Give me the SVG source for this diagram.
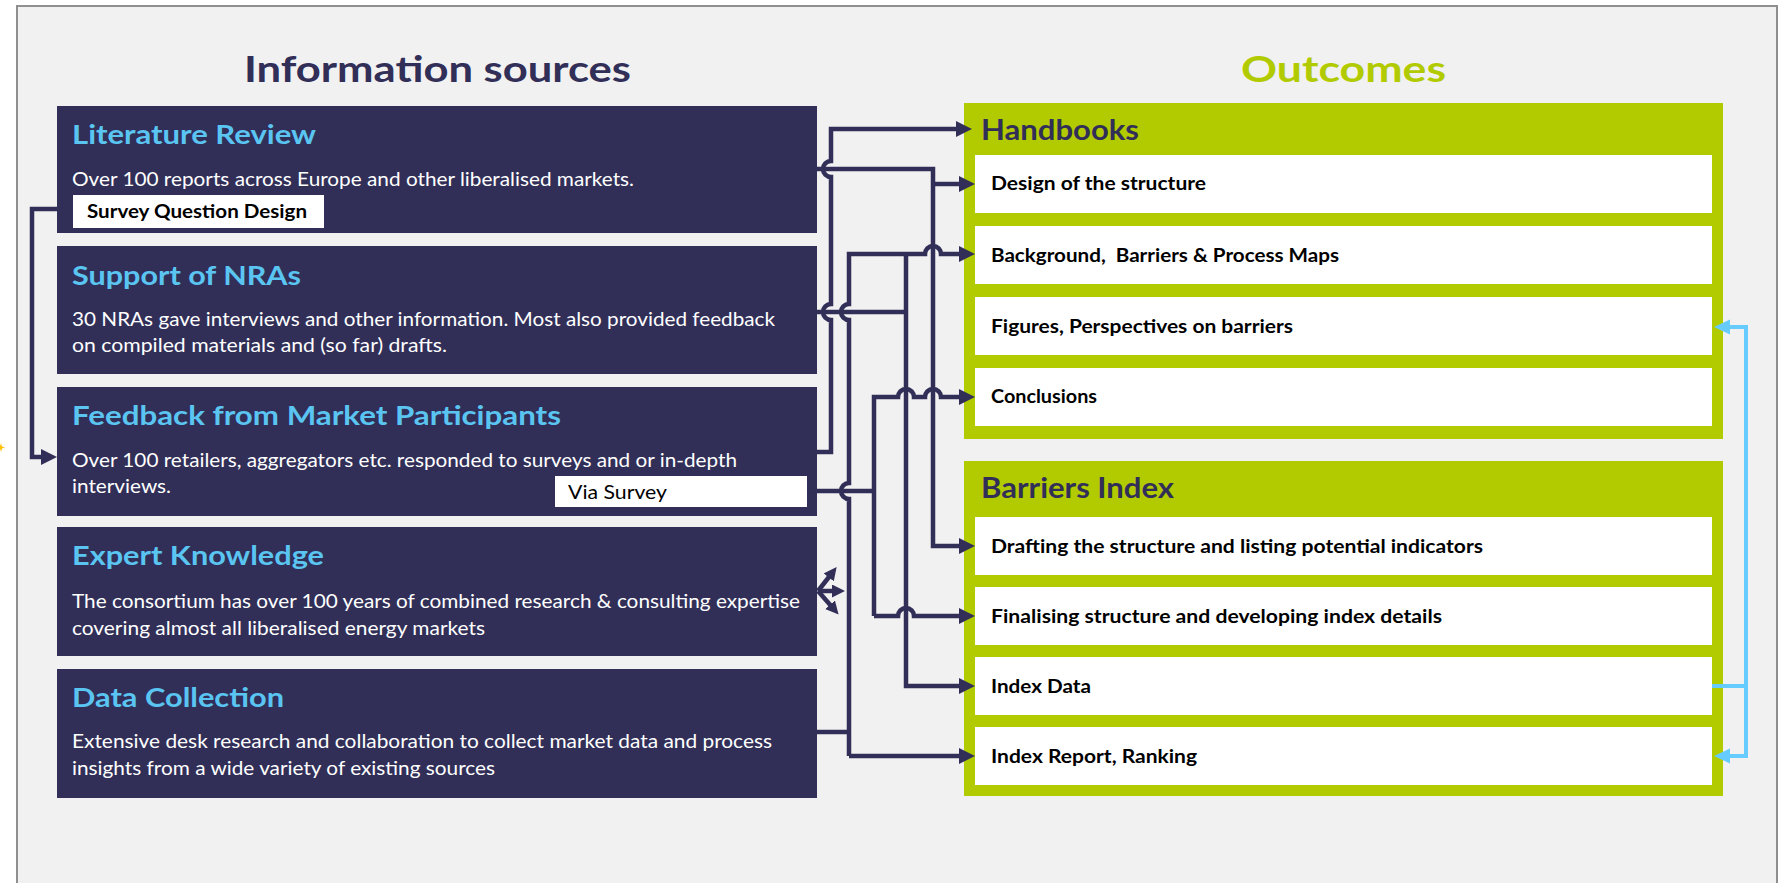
<svg xmlns="http://www.w3.org/2000/svg" width="1788" height="883" viewBox="0 0 1788 883">
<style>
.bg{fill:#f1f1f1;stroke:#8f8f8f;stroke-width:2}
.src{fill:#312f58}
.grn{fill:#b2cb00}
.item{fill:#ffffff}
.lbl{fill:#ffffff}
.h1{font-family:Lato,"Open Sans",sans-serif;font-weight:700;font-size:37px}
.st{font-family:Lato,"Open Sans",sans-serif;font-weight:700;font-size:27px;fill:#5bc5f2}
.body{font-family:Lato,"Open Sans",sans-serif;font-size:19px;fill:#ffffff}
.hd{font-family:Lato,"Open Sans",sans-serif;font-weight:700;font-size:29px;fill:#312f58}
.it{font-family:Lato,"Open Sans",sans-serif;font-weight:700;font-size:19px;fill:#000000;white-space:pre}
.lb{font-family:Lato,"Open Sans",sans-serif;font-size:19px;fill:#000000}
.c{fill:none;stroke:#312f58;stroke-width:4.5}
.cb{fill:none;stroke:#66ccff;stroke-width:4}
</style>
<defs>
<marker id="an" markerUnits="userSpaceOnUse" markerWidth="18" markerHeight="18" refX="4" refY="8" orient="auto"><path d="M0,0 L16,8 L0,16 z" fill="#312f58"/></marker>
<marker id="as" markerUnits="userSpaceOnUse" markerWidth="14" markerHeight="14" refX="3" refY="6.5" orient="auto"><path d="M0,0 L13,6.5 L0,13 z" fill="#312f58"/></marker>
<marker id="ab" markerUnits="userSpaceOnUse" markerWidth="17" markerHeight="16" refX="4" refY="7.5" orient="auto"><path d="M0,0 L16,7.5 L0,15 z" fill="#66ccff"/></marker>
</defs>
<rect x="0" y="0" width="1788" height="883" fill="#ffffff"/>
<rect class="bg" x="17" y="6" width="1760" height="900"/>
<path d="M1,443 L2,446.5 L5,447.5 L2,448.5 L1,452 L0,448.5 L-3,447.5 L0,446.5 z" fill="#ffc000"/>

<text class="h1" x="244" y="82" fill="#312f58" textLength="387" lengthAdjust="spacingAndGlyphs">Information sources</text>
<text class="h1" x="1241" y="82" fill="#b2cb00" textLength="205" lengthAdjust="spacingAndGlyphs">Outcomes</text>

<g id="literature-review">
<rect class="src" x="57" y="106" width="760" height="127"/>
<text class="st" x="72" y="144" textLength="244" lengthAdjust="spacingAndGlyphs">Literature Review</text>
<text class="body" x="72" y="186" textLength="562" lengthAdjust="spacingAndGlyphs">Over 100 reports across Europe and other liberalised markets.</text>
<rect class="lbl" x="73" y="195" width="251" height="33"/>
<text class="lb" x="87" y="218" font-weight="700" font-size="18" textLength="220" lengthAdjust="spacingAndGlyphs">Survey Question Design</text>
</g>
<g id="support-nras">
<rect class="src" x="57" y="246" width="760" height="128"/>
<text class="st" x="72" y="285" textLength="229" lengthAdjust="spacingAndGlyphs">Support of NRAs</text>
<text class="body" x="72" y="326" textLength="703" lengthAdjust="spacingAndGlyphs">30 NRAs gave interviews and other information. Most also provided feedback</text>
<text class="body" x="72" y="352" textLength="375" lengthAdjust="spacingAndGlyphs">on compiled materials and (so far) drafts.</text>
</g>
<g id="feedback-market">
<rect class="src" x="57" y="387" width="760" height="129"/>
<text class="st" x="72" y="425" textLength="489" lengthAdjust="spacingAndGlyphs">Feedback from Market Participants</text>
<text class="body" x="72" y="467" textLength="665" lengthAdjust="spacingAndGlyphs">Over 100 retailers, aggregators etc. responded to surveys and or in-depth</text>
<text class="body" x="72" y="493" textLength="99" lengthAdjust="spacingAndGlyphs">interviews.</text>
<rect class="lbl" x="555" y="476" width="252" height="31"/>
<text class="lb" x="568" y="499" textLength="99" lengthAdjust="spacingAndGlyphs">Via Survey</text>
</g>
<g id="expert-knowledge">
<rect class="src" x="57" y="527" width="760" height="129"/>
<text class="st" x="72" y="565" textLength="252" lengthAdjust="spacingAndGlyphs">Expert Knowledge</text>
<text class="body" x="72" y="608" textLength="728" lengthAdjust="spacingAndGlyphs">The consortium has over 100 years of combined research &amp; consulting expertise</text>
<text class="body" x="72" y="635" textLength="413" lengthAdjust="spacingAndGlyphs">covering almost all liberalised energy markets</text>
</g>
<g id="data-collection">
<rect class="src" x="57" y="669" width="760" height="129"/>
<text class="st" x="72" y="707" textLength="212" lengthAdjust="spacingAndGlyphs">Data Collection</text>
<text class="body" x="72" y="748" textLength="700" lengthAdjust="spacingAndGlyphs">Extensive desk research and collaboration to collect market data and process</text>
<text class="body" x="72" y="775" textLength="423" lengthAdjust="spacingAndGlyphs">insights from a wide variety of existing sources</text>
</g>

<g id="handbooks">
<rect class="grn" x="964" y="103" width="759" height="336"/>
<text class="hd" x="981" y="140" textLength="158" lengthAdjust="spacingAndGlyphs">Handbooks</text>
<rect class="item" x="975" y="155" width="737" height="58"/>
<text class="it" x="991" y="190" textLength="215" lengthAdjust="spacingAndGlyphs">Design of the structure</text>
<rect class="item" x="975" y="226" width="737" height="58"/>
<text class="it" x="991" y="262" textLength="348" lengthAdjust="spacingAndGlyphs">Background,  Barriers &amp; Process Maps</text>
<rect class="item" x="975" y="297" width="737" height="58"/>
<text class="it" x="991" y="333" textLength="302" lengthAdjust="spacingAndGlyphs">Figures, Perspectives on barriers</text>
<rect class="item" x="975" y="368" width="737" height="58"/>
<text class="it" x="991" y="403" textLength="106" lengthAdjust="spacingAndGlyphs">Conclusions</text>
</g>
<g id="barriers-index">
<rect class="grn" x="964" y="461" width="759" height="335"/>
<text class="hd" x="981" y="498" textLength="193" lengthAdjust="spacingAndGlyphs">Barriers Index</text>
<rect class="item" x="975" y="517" width="737" height="58"/>
<text class="it" x="991" y="553" textLength="492" lengthAdjust="spacingAndGlyphs">Drafting the structure and listing potential indicators</text>
<rect class="item" x="975" y="587" width="737" height="58"/>
<text class="it" x="991" y="623" textLength="451" lengthAdjust="spacingAndGlyphs">Finalising structure and developing index details</text>
<rect class="item" x="975" y="657" width="737" height="58"/>
<text class="it" x="991" y="693" textLength="100" lengthAdjust="spacingAndGlyphs">Index Data</text>
<rect class="item" x="975" y="727" width="737" height="58"/>
<text class="it" x="991" y="763" textLength="206" lengthAdjust="spacingAndGlyphs">Index Report, Ranking</text>
</g>

<g id="connectors">
<path class="c" d="M57,209 H32 V457 H45" marker-end="url(#an)"/>
<path class="c" d="M817,452 H831 V320 A8,8 0 0 1 831,304 V177 A8,8 0 0 1 831,161 V129 H960" marker-end="url(#an)"/>
<path class="c" d="M817,169 H933 V546 H963" marker-end="url(#an)"/>
<path class="c" d="M933,184 H963" marker-end="url(#an)"/>
<path class="c" d="M817,312 H906"/>
<path class="c" d="M906,254 V686 H963" marker-end="url(#an)"/>
<path class="c" d="M849,756 V499 A8,8 0 0 1 849,483 V320 A8,8 0 0 1 849,304 V254 H925 A8,8 0 0 1 941,254 H963" marker-end="url(#an)"/>
<path class="c" d="M849,756 H963" marker-end="url(#an)"/>
<path class="c" d="M817,732 H849"/>
<path class="c" d="M807,491 H874"/>
<path class="c" d="M874,616 V397 H898 A8,8 0 0 1 914,397 H925 A8,8 0 0 1 941,397 H963" marker-end="url(#an)"/>
<path class="c" d="M874,616 H898 A8,8 0 0 1 914,616 H963" marker-end="url(#an)"/>
<path class="c" d="M818,591 L830.5,575" marker-end="url(#as)" stroke-width="3.5"/>
<path class="c" d="M818,591 L835,591" marker-end="url(#as)" stroke-width="3.5"/>
<path class="c" d="M818,591 L832,607" marker-end="url(#as)" stroke-width="3.5"/>
<path class="cb" d="M1712,686 H1746 V327 H1726" marker-end="url(#ab)"/>
<path class="cb" d="M1746,686 V756 H1726" marker-end="url(#ab)"/>
</g>
</svg>
